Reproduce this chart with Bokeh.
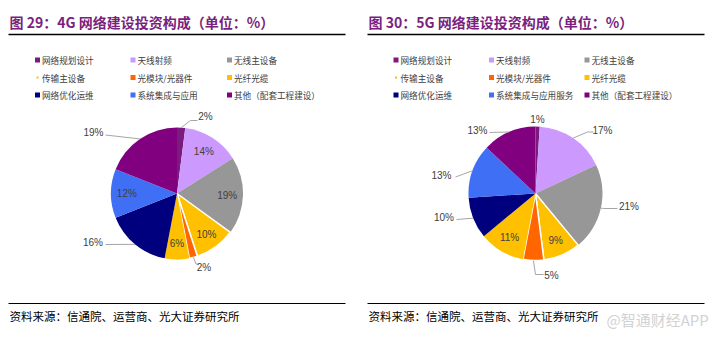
import numpy as np
from bokeh.plotting import figure
from bokeh.models import Range1d
from bokeh.core.properties import value
from bokeh.embed import file_html
from bokeh.resources import INLINE

# ---------------- data ----------------
categories_4g = ["网络规划设计", "天线射频", "无线主设备", "传输主设备", "光模块/光器件",
                 "光纤光缆", "网络优化运维", "系统集成与应用", "其他（配套工程建设）"]
values_4g = [2, 14, 19, 10, 2, 6, 16, 12, 19]

categories_5g = ["网络规划设计", "天线射频", "无线主设备", "传输主设备", "光模块/光器件",
                 "光纤光缆", "网络优化运维", "系统集成与应用服务", "其他（配套工程建设）"]
values_5g = [1, 17, 21, 9, 5, 11, 10, 13, 13]

title_4g = "图 29：4G 网络建设投资构成（单位：%）"
title_5g = "图 30：5G 网络建设投资构成（单位：%）"
source_text = "资料来源：信通院、运营商、光大证券研究所"
watermark = "@智通财经APP"

# ---------------- styles / layout ----------------
colors = ["#7D1A7D", "#CC99FF", "#979797", "#FFC000", "#FF6600",
          "#FFC000", "#00007F", "#3F6FF5", "#800080"]
W, H = 722, 339
CJK = "Noto Sans CJK SC"
LAT = "Liberation Sans"


def Y(ys):
    return H - ys


p = figure(width=W, height=H, output_backend="svg", toolbar_location=None,
           x_range=Range1d(0, W), y_range=Range1d(0, H),
           x_axis_location=None, y_axis_location=None, min_border=0)
p.outline_line_color = None
p.xgrid.visible = False
p.ygrid.visible = False
p.background_fill_color = "white"

panels = [
    dict(x0=8, x1=345, title=title_4g, tx=9, cats=categories_4g, vals=values_4g,
         cx=176.5, cy=193, r=66, legx=[37, 132.5, 229],
         inside=[1, 2, 3, 5, 7],
         outside={0: (205, 116, 190, 120, 197),
                  4: (203.5, 266.5, 195.5, 263.5, 197),
                  6: (92.5, 242, 105, 244, 105),
                  8: (93, 132, 105, 134.5, 105)},
         white=[3, 4]),
    dict(x0=367, x1=704, title=title_5g, tx=368, cats=categories_5g, vals=values_5g,
         cx=535, cy=193, r=67, legx=[395.5, 491, 586.5],
         inside=[3, 5],
         outside={0: (537, 118.5, None, None, None),
                  1: (602, 129.5, 587, 131.5, 593),
                  2: (628.5, 205.5, 603, 208, 617),
                  4: (551, 275, 535, 274, 543),
                  6: (443.5, 216.5, 456, 219, 456),
                  7: (441, 175, 455, 176.5, 455),
                  8: (477, 129.5, 489, 132, 489)},
         white=[3, 4]),
]

leg_rows = [59.5, 77, 94.5]

for pn in panels:
    # title & rules
    p.text(x=[pn["tx"]], y=[Y(21)], text=[pn["title"]], text_font=value(CJK),
           text_font_size="14px", text_font_style="bold", text_color="#7A1F7E",
           text_baseline="middle", text_align="left")
    p.line(x=[pn["x0"], pn["x1"]], y=[Y(34), Y(34)], line_color="black", line_width=1.5)
    p.line(x=[pn["x0"], pn["x1"]], y=[Y(303), Y(303)], line_color="black", line_width=1.2)
    p.text(x=[pn["x0"] + 1], y=[Y(315)], text=[source_text], text_font=value(CJK),
           text_font_size="11.5px", text_color="black", text_baseline="middle",
           text_align="left")

    # legend
    for i, cat in enumerate(pn["cats"]):
        row, col = i // 3, i % 3
        mx, my = pn["legx"][col], Y(leg_rows[row])
        size = 2 if i == 3 else 5
        p.scatter(x=[mx], y=[my], marker="square", size=size, fill_color=colors[i],
                  line_color=None)
        p.text(x=[mx + 4.5], y=[my], text=[cat], text_font=value(CJK),
               text_font_size="8.6px", text_color="#404040", text_baseline="middle",
               text_align="left")

    # pie
    vals = np.array(pn["vals"], dtype=float)
    frac = vals / vals.sum()
    cum_after = np.cumsum(frac)
    cum_before = cum_after - frac
    start = np.pi / 2 - 2 * np.pi * cum_before
    end = np.pi / 2 - 2 * np.pi * cum_after
    cx, cy, r = pn["cx"], Y(pn["cy"]), pn["r"]
    for i in range(len(vals)):
        lc = "white" if i in pn["white"] else None
        p.wedge(x=[cx], y=[cy], radius=r, start_angle=[start[i]], end_angle=[end[i]],
                direction="clock", fill_color=colors[i], line_color=lc,
                line_width=1.5 if lc else 0)
    mid = 2 * np.pi * (cum_before + frac / 2)  # clockwise from top
    labels = [f"{int(v)}%" for v in pn["vals"]]
    for i in pn["inside"]:
        k = 0.76 * r
        p.text(x=[cx + k * np.sin(mid[i])], y=[cy + k * np.cos(mid[i])], text=[labels[i]],
               text_font=value(LAT), text_font_size="10px", text_color="#404040",
               text_baseline="middle", text_align="center")
    for i, (lx, ly, kx, ky, ex) in pn["outside"].items():
        sx, sy = cx + r * np.sin(mid[i]), cy + r * np.cos(mid[i])
        if kx is not None:
            p.line(x=[sx, kx, ex], y=[sy, Y(ky), Y(ky)], line_color="#A6A6A6", line_width=1)
        p.text(x=[lx], y=[Y(ly)], text=[labels[i]], text_font=value(LAT),
               text_font_size="10px", text_color="#404040", text_baseline="middle",
               text_align="center")

p.text(x=[606], y=[Y(319)], text=[watermark], text_font=value(CJK),
       text_font_size="15px", text_color="#D2D2D2", text_baseline="middle",
       text_align="left")

open("out.html", "w").write(file_html(p, INLINE))
